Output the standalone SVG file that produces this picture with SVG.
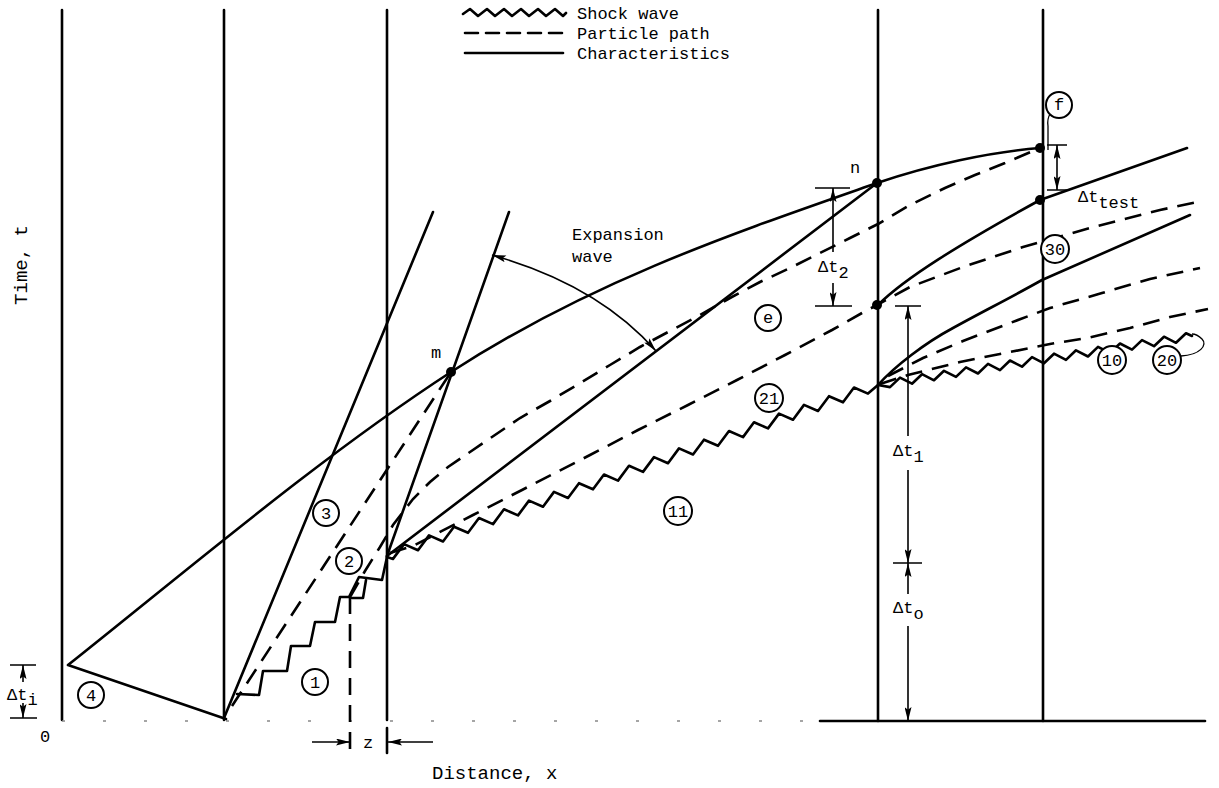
<svg xmlns="http://www.w3.org/2000/svg" width="1219" height="788" viewBox="0 0 1219 788">
<defs>
<style>
.ln{stroke:#000;stroke-width:2.6;fill:none;stroke-linecap:round;stroke-linejoin:round}
.dim{stroke:#000;stroke-width:1.6;fill:none}
.ds{stroke:#000;stroke-width:2.6;fill:none;stroke-dasharray:17 10}
.t{font-family:"Liberation Mono","DejaVu Sans Mono",monospace;font-size:17px;fill:#000}
.big{font-size:19px}
.c{fill:#fff;stroke:#000;stroke-width:2}
.dot{fill:#000}
</style>
<marker id="ah" viewBox="0 0 16 8" refX="16" refY="4" markerWidth="15" markerHeight="7" markerUnits="userSpaceOnUse" orient="auto-start-reverse"><path d="M0,0 L16,4 L0,8 L3,4 z" fill="#000"/></marker>
</defs>
<rect width="1219" height="788" fill="#fff"/>

<g id="legend">
<path class="ln" d="M463,14 L470,9 L478,16 L487,9 L495,16 L504,9 L512,16 L521,9 L529,16 L538,9 L546,16 L555,9 L563,16 L566,13"/>
<path class="ln" d="M465,33 L565,33" style="stroke-dasharray:13 8"/>
<path class="ln" d="M465,53 L563,53"/>
<text class="t" x="577" y="19">Shock wave</text>
<text class="t" x="577" y="39">Particle path</text>
<text class="t" x="577" y="59">Characteristics</text>
</g>

<g id="walls">
<path class="ln" d="M62,10 V720 M224,10 V720 M387,10 V720 M878,10 V721 M1043,10 V721"/>
<path class="ln" d="M820,721 H1205"/>
<path d="M62,721 H820" stroke="#888" stroke-width="1.5" stroke-dasharray="3 38" fill="none"/>
</g>

<g id="connectors">
<!-- expansion head reflected from end wall -->
<path class="ln" d="M226,719 L68,665 C190,568 321,456.5 451,372 C591,281 737,232 877,183 C930,165 990,152 1040,148"/>
<!-- characteristics -->
<path class="ln" d="M224,718 L433,212"/>
<path class="ln" d="M387,556 L509,212"/>
<path class="ln" d="M387,556 L877,183"/>
<path class="ln" d="M878,305 C905,278 960,244 1040,200 L1187,148"/>
<path class="ln" d="M878,385 C895,366 925,343 953,328 C980,313 1010,298 1042,280 L1190,215"/>
<!-- shock wave -->
<path class="ln" d="M237,694 L259,695 L263,671 L287,671 L291,646 L310,646 L315,622 L335,622 L340,597 L349,597 L359,577 L382,580 L387,557"/>
<path class="ln" d="M352,598 L363,598 L366,580"/>
<path class="ln" d="M387,557 L393,558.9 L404,544.1 L418,550.2 L429,535.4 L443,541.5 L454,526.7 L468,532.8 L479,518 L493,524.1 L504,509.3 L518,515.4 L529,500.6 L543,506.7 L554,491.9 L568,498 L579,483.2 L593,489.3 L604,474.5 L618,480.6 L629,465.8 L643,471.9 L654,457.1 L668,463.2 L679,448.4 L693,454.5 L704,439.7 L718,445.8 L729,431 L743,437.1 L754,422.3 L768,428.4 L779,413.6 L793,419.7 L804,404.9 L818,411 L829,396.2 L843,402.3 L854,387.5 L868,393.6 L878,385 L890,387.1 L900,377.6 L912,383.7 L922,374.2 L934,380.3 L944,370.8 L956,376.9 L966,367.4 L978,373.5 L988,363.9 L1000,370.1 L1010,360.5 L1022,366.7 L1032,357.1 L1044,363.3 L1054,353.7 L1066,359.9 L1076,350.3 L1088,356.5 L1098,346.9 L1110,353 L1120,343.5 L1132,349.6 L1142,340.1 L1154,346.2 L1164,336.7 L1176,342.8 L1186,333.3 L1192,336"/>
<!-- particle paths -->
<path class="ds" d="M350,597 V753"/>
<path class="ds" d="M232,706 L451,372"/>
<path class="ds" d="M350,597 L365,571 L380,547 L393,525 L413,499 L430,482 L448,467 L470,452 L492,437 L520,418 L550,401 L582,382 L610,365 L640,347 L670,331 L700,315 L730,298 L760,282 L790,268 L820,253 L850,238 L878,224 L910,205 L945,188 L975,175 L1005,163 L1040,148"/>
<path class="ds" d="M390,553 L413,546 L438,533 L473,515 L522,490 L590,455 L638,430 L688,405 L737,380 L785,355 L832,330 L862,313 L877,305 L910,287 L963,267 L1023,247 L1090,228 L1160,210 L1202,201"/>
<path class="ds" d="M888,376 L923,358 L963,341 L1010,323 L1050,308 L1102,293 L1150,279 L1200,268"/>
<path class="ds" d="M880,384 L908,375 L960,362 L1000,354 L1050,344 L1087,338 L1130,328 L1170,317 L1208,309"/>
<!-- expansion wave arrow -->
<path class="dim" d="M492,255 Q598,285 656,351" marker-start="url(#ah)" marker-end="url(#ah)"/>
<!-- leaders -->
<path class="dim" style="stroke-width:1.3" d="M1050,114 Q1047,119 1048,126 V150"/>
<path class="dim" style="stroke-width:1.3" d="M1181,356 C1200,355 1208,345 1202,339 C1199,336 1196,334 1192,334"/>
</g>

<g id="dimensions">
<!-- dt_i -->
<path class="dim" d="M10,665 H36 M10,718 H37"/>
<path class="dim" d="M23,682 V665" marker-end="url(#ah)"/>
<path class="dim" d="M23,703 V718" marker-end="url(#ah)"/>
<!-- z -->
<path class="dim" d="M312,742 H350" marker-end="url(#ah)"/>
<path class="dim" d="M433,742 H388" marker-end="url(#ah)"/>
<path class="ln" d="M387,728 V753"/>
<!-- dt2 -->
<path class="dim" d="M815,188 H850 M815,306 H852"/>
<path class="dim" d="M833,252 V188" marker-end="url(#ah)"/>
<path class="dim" d="M833,283 V306" marker-end="url(#ah)"/>
<!-- dt test -->
<path class="dim" d="M1047,145 H1067 M1047,190 H1067"/>
<path class="dim" d="M1057,145 V190" marker-start="url(#ah)" marker-end="url(#ah)"/>
<!-- dt1 / dt0 -->
<path class="dim" d="M895,306 H921 M893,563 H922"/>
<path class="dim" d="M908,436 V306" marker-end="url(#ah)"/>
<path class="dim" d="M908,470 V563" marker-end="url(#ah)"/>
<path class="dim" d="M908,594 V563" marker-end="url(#ah)"/>
<path class="dim" d="M908,626 V721" marker-end="url(#ah)"/>
</g>

<g id="points">
<circle class="dot" cx="451" cy="372" r="5"/>
<circle class="dot" cx="877" cy="183" r="5"/>
<circle class="dot" cx="877" cy="305" r="5"/>
<circle class="dot" cx="1040" cy="148" r="5"/>
<circle class="dot" cx="1040" cy="200" r="5"/>
</g>

<g id="regions">
<g id="r4"><circle class="c" cx="91" cy="695" r="13"/><text class="t" x="91" y="701" text-anchor="middle">4</text></g>
<g id="r1"><circle class="c" cx="315" cy="682" r="13"/><text class="t" x="315" y="688" text-anchor="middle">1</text></g>
<g id="r3"><circle class="c" cx="326" cy="513" r="13"/><text class="t" x="326" y="519" text-anchor="middle">3</text></g>
<g id="r2"><circle class="c" cx="349" cy="561" r="13"/><text class="t" x="349" y="567" text-anchor="middle">2</text></g>
<g id="r11"><circle class="c" cx="678" cy="511" r="14"/><text class="t" x="678" y="517" text-anchor="middle">11</text></g>
<g id="r21"><circle class="c" cx="769" cy="398" r="14"/><text class="t" x="769" y="404" text-anchor="middle">21</text></g>
<g id="re"><circle class="c" cx="768" cy="318" r="13"/><text class="t" x="768" y="323" text-anchor="middle">e</text></g>
<g id="r30"><circle class="c" cx="1055" cy="249" r="14"/><text class="t" x="1055" y="255" text-anchor="middle">30</text></g>
<g id="r10"><circle class="c" cx="1112" cy="360" r="14"/><text class="t" x="1112" y="366" text-anchor="middle">10</text></g>
<g id="r20"><circle class="c" cx="1167" cy="360" r="14"/><text class="t" x="1167" y="366" text-anchor="middle">20</text></g>
<g id="rf"><circle class="c" cx="1059" cy="105" r="13"/><text class="t" x="1059" y="110" text-anchor="middle">f</text></g>
</g>

<g id="labels">
<text class="t" x="431" y="358">m</text>
<text class="t" x="850" y="173">n</text>
<text class="t" x="572" y="240">Expansion</text>
<text class="t" x="572" y="262">wave</text>
<text class="t" x="7" y="700">Δt<tspan dy="5">i</tspan></text>
<text class="t" x="40" y="742">0</text>
<text class="t" x="363" y="748">z</text>
<text class="t" x="818" y="272">Δt<tspan dy="6">2</tspan></text>
<text class="t" x="1078" y="202">Δt<tspan dy="6">test</tspan></text>
<text class="t" x="893" y="456">Δt<tspan dy="6">1</tspan></text>
<text class="t" x="893" y="613">Δt<tspan dy="6">o</tspan></text>
<text class="t big" x="432" y="779">Distance, x</text>
<text class="t big" transform="translate(27,265) rotate(-90)" text-anchor="middle">Time, t</text>
</g>
</svg>
